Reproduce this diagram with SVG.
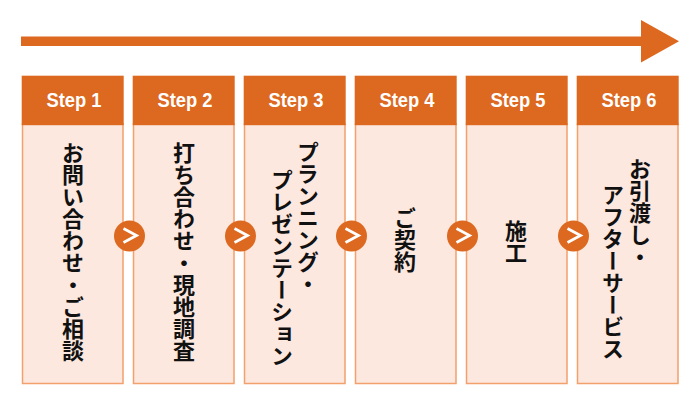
<svg xmlns="http://www.w3.org/2000/svg" width="700" height="401" viewBox="0 0 700 401">
  <defs>
    <style>
      .hdr { fill: #dd681f; }
      .body { fill: #fde8df; stroke: #f2a06c; stroke-width: 1.5; }
      .step { font-family: "Liberation Sans", Arial, sans-serif; font-weight: bold; font-size: 21px; fill: #ffffff; text-anchor: middle; }
      .vt { font-family: "Noto Sans CJK JP", sans-serif; font-weight: bold; font-size: 22px; fill: #111111; writing-mode: vertical-rl; text-anchor: start; }
      .circ { fill: #dd681f; }
      .chev { fill: none; stroke: #ffffff; stroke-width: 2.8; stroke-linecap: butt; stroke-linejoin: miter; }
    </style>
  </defs>
  <rect width="700" height="401" fill="#ffffff"/>

  <g id="timeline-arrow">
    <rect x="21" y="36.5" width="621" height="9.5" fill="#dd681f"/>
    <polygon points="641,20 679,41.3 641,62.5" fill="#dd681f"/>
  </g>

  <g id="step1">
    <rect class="body" x="22.5" y="124" width="100.5" height="259.5"/>
    <rect class="hdr" x="21.7" y="75.7" width="102" height="49.5"/>
    <text class="step" x="74" y="107" textLength="55" lengthAdjust="spacingAndGlyphs">Step 1</text>
    <text class="vt" x="73" y="142">お問い合わせ・ご相談</text>
  </g>
  <g id="step2">
    <rect class="body" x="133.5" y="124" width="100.5" height="259.5"/>
    <rect class="hdr" x="132.7" y="75.7" width="102" height="49.5"/>
    <text class="step" x="185" y="107" textLength="55" lengthAdjust="spacingAndGlyphs">Step 2</text>
    <text class="vt" x="184" y="142">打ち合わせ・現地調査</text>
  </g>
  <g id="step3">
    <rect class="body" x="244.5" y="124" width="100.5" height="259.5"/>
    <rect class="hdr" x="243.7" y="75.7" width="102" height="49.5"/>
    <text class="step" x="296" y="107" textLength="55" lengthAdjust="spacingAndGlyphs">Step 3</text>
    <text class="vt" x="308" y="141">プランニング・</text>
    <text class="vt" x="282" y="169">プレゼンテーション</text>
  </g>
  <g id="step4">
    <rect class="body" x="355.5" y="124" width="100.5" height="259.5"/>
    <rect class="hdr" x="354.7" y="75.7" width="102" height="49.5"/>
    <text class="step" x="407" y="107" textLength="55" lengthAdjust="spacingAndGlyphs">Step 4</text>
    <text class="vt" x="405" y="207">ご契約</text>
  </g>
  <g id="step5">
    <rect class="body" x="466.5" y="124" width="100.5" height="259.5"/>
    <rect class="hdr" x="465.7" y="75.7" width="102" height="49.5"/>
    <text class="step" x="518" y="107" textLength="55" lengthAdjust="spacingAndGlyphs">Step 5</text>
    <text class="vt" x="516" y="220">施工</text>
  </g>
  <g id="step6">
    <rect class="body" x="577.5" y="124" width="100.5" height="259.5"/>
    <rect class="hdr" x="576.7" y="75.7" width="102" height="49.5"/>
    <text class="step" x="629" y="107" textLength="55" lengthAdjust="spacingAndGlyphs">Step 6</text>
    <text class="vt" x="640" y="158">お引渡し・</text>
    <text class="vt" x="613" y="184">アフターサービス</text>
  </g>

  <g id="connectors">
    <circle class="circ" cx="129.5" cy="236" r="15.5"/>
    <polyline class="chev" points="123.5,228.5 136.5,235.5 123.5,242.5"/>
    <circle class="circ" cx="240.5" cy="236" r="15.5"/>
    <polyline class="chev" points="234.5,228.5 247.5,235.5 234.5,242.5"/>
    <circle class="circ" cx="351.5" cy="236" r="15.5"/>
    <polyline class="chev" points="345.5,228.5 358.5,235.5 345.5,242.5"/>
    <circle class="circ" cx="462.5" cy="236" r="15.5"/>
    <polyline class="chev" points="456.5,228.5 469.5,235.5 456.5,242.5"/>
    <circle class="circ" cx="573.5" cy="236" r="15.5"/>
    <polyline class="chev" points="567.5,228.5 580.5,235.5 567.5,242.5"/>
  </g>
</svg>
